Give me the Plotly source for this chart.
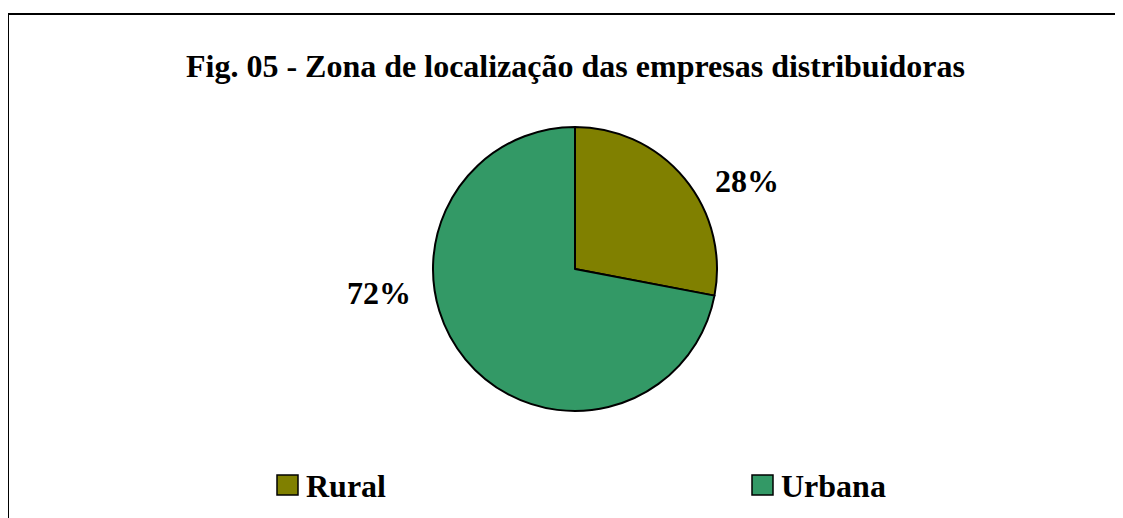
import plotly.graph_objects as go

categories = ["Rural", "Urbana"]
values = [28, 72]
colors = ["#808000", "#339966"]
title_text = "Fig. 05 - Zona de localização das empresas distribuidoras"

W, H = 1123, 518
FONT = "Liberation Serif, Times New Roman, serif"
OFF = 8  # page body margin

def px(x):
    return (x - OFF) / W

def py(y):
    return 1 - (y - OFF) / H

cx, cy, r = 575, 269, 142

fig = go.Figure(go.Pie(
    labels=categories,
    values=values,
    marker=dict(colors=colors, line=dict(color="black", width=2)),
    sort=False,
    direction="clockwise",
    rotation=0,
    textinfo="none",
    hoverinfo="label+percent",
    showlegend=False,
    domain=dict(x=[px(cx - r), px(cx + r)], y=[py(cy + r), py(cy - r)]),
))

total = sum(values)
label_pos = [(747, 181), (379, 293)]
annotations = []
for v, (lx, ly) in zip(values, label_pos):
    annotations.append(dict(
        x=px(lx), y=py(ly), xref="paper", yref="paper",
        text=f"<b>{round(100 * v / total)}%</b>", showarrow=False,
        font=dict(family=FONT, size=32, color="black"),
        xanchor="center", yanchor="middle",
    ))

# title
annotations.append(dict(
    x=px(575), y=py(66), xref="paper", yref="paper",
    text=f"<b>{title_text}</b>", showarrow=False,
    font=dict(family=FONT, size=32, color="black"),
    xanchor="center", yanchor="middle",
))

shapes = [dict(type="rect", xref="paper", yref="paper",
               x0=px(8), x1=px(1160), y0=py(560), y1=py(14),
               line=dict(color="black", width=2), fillcolor="rgba(0,0,0,0)")]

legend_x = [277, 752]
for cat, col, lx in zip(categories, colors, legend_x):
    shapes.append(dict(type="rect", xref="paper", yref="paper",
                       x0=px(lx), x1=px(lx + 21), y0=py(495), y1=py(475),
                       line=dict(color="black", width=1.5), fillcolor=col))
    annotations.append(dict(
        x=px(lx + 27), y=py(486), xref="paper", yref="paper",
        text=f"<b>{cat}</b>", showarrow=False,
        font=dict(family=FONT, size=32, color="black"),
        xanchor="left", yanchor="middle",
    ))

fig.update_layout(
    width=W, height=H,
    margin=dict(l=0, r=0, t=0, b=0),
    paper_bgcolor="white", plot_bgcolor="white",
    annotations=annotations, shapes=shapes,
)

fig.write_html("out.html")
